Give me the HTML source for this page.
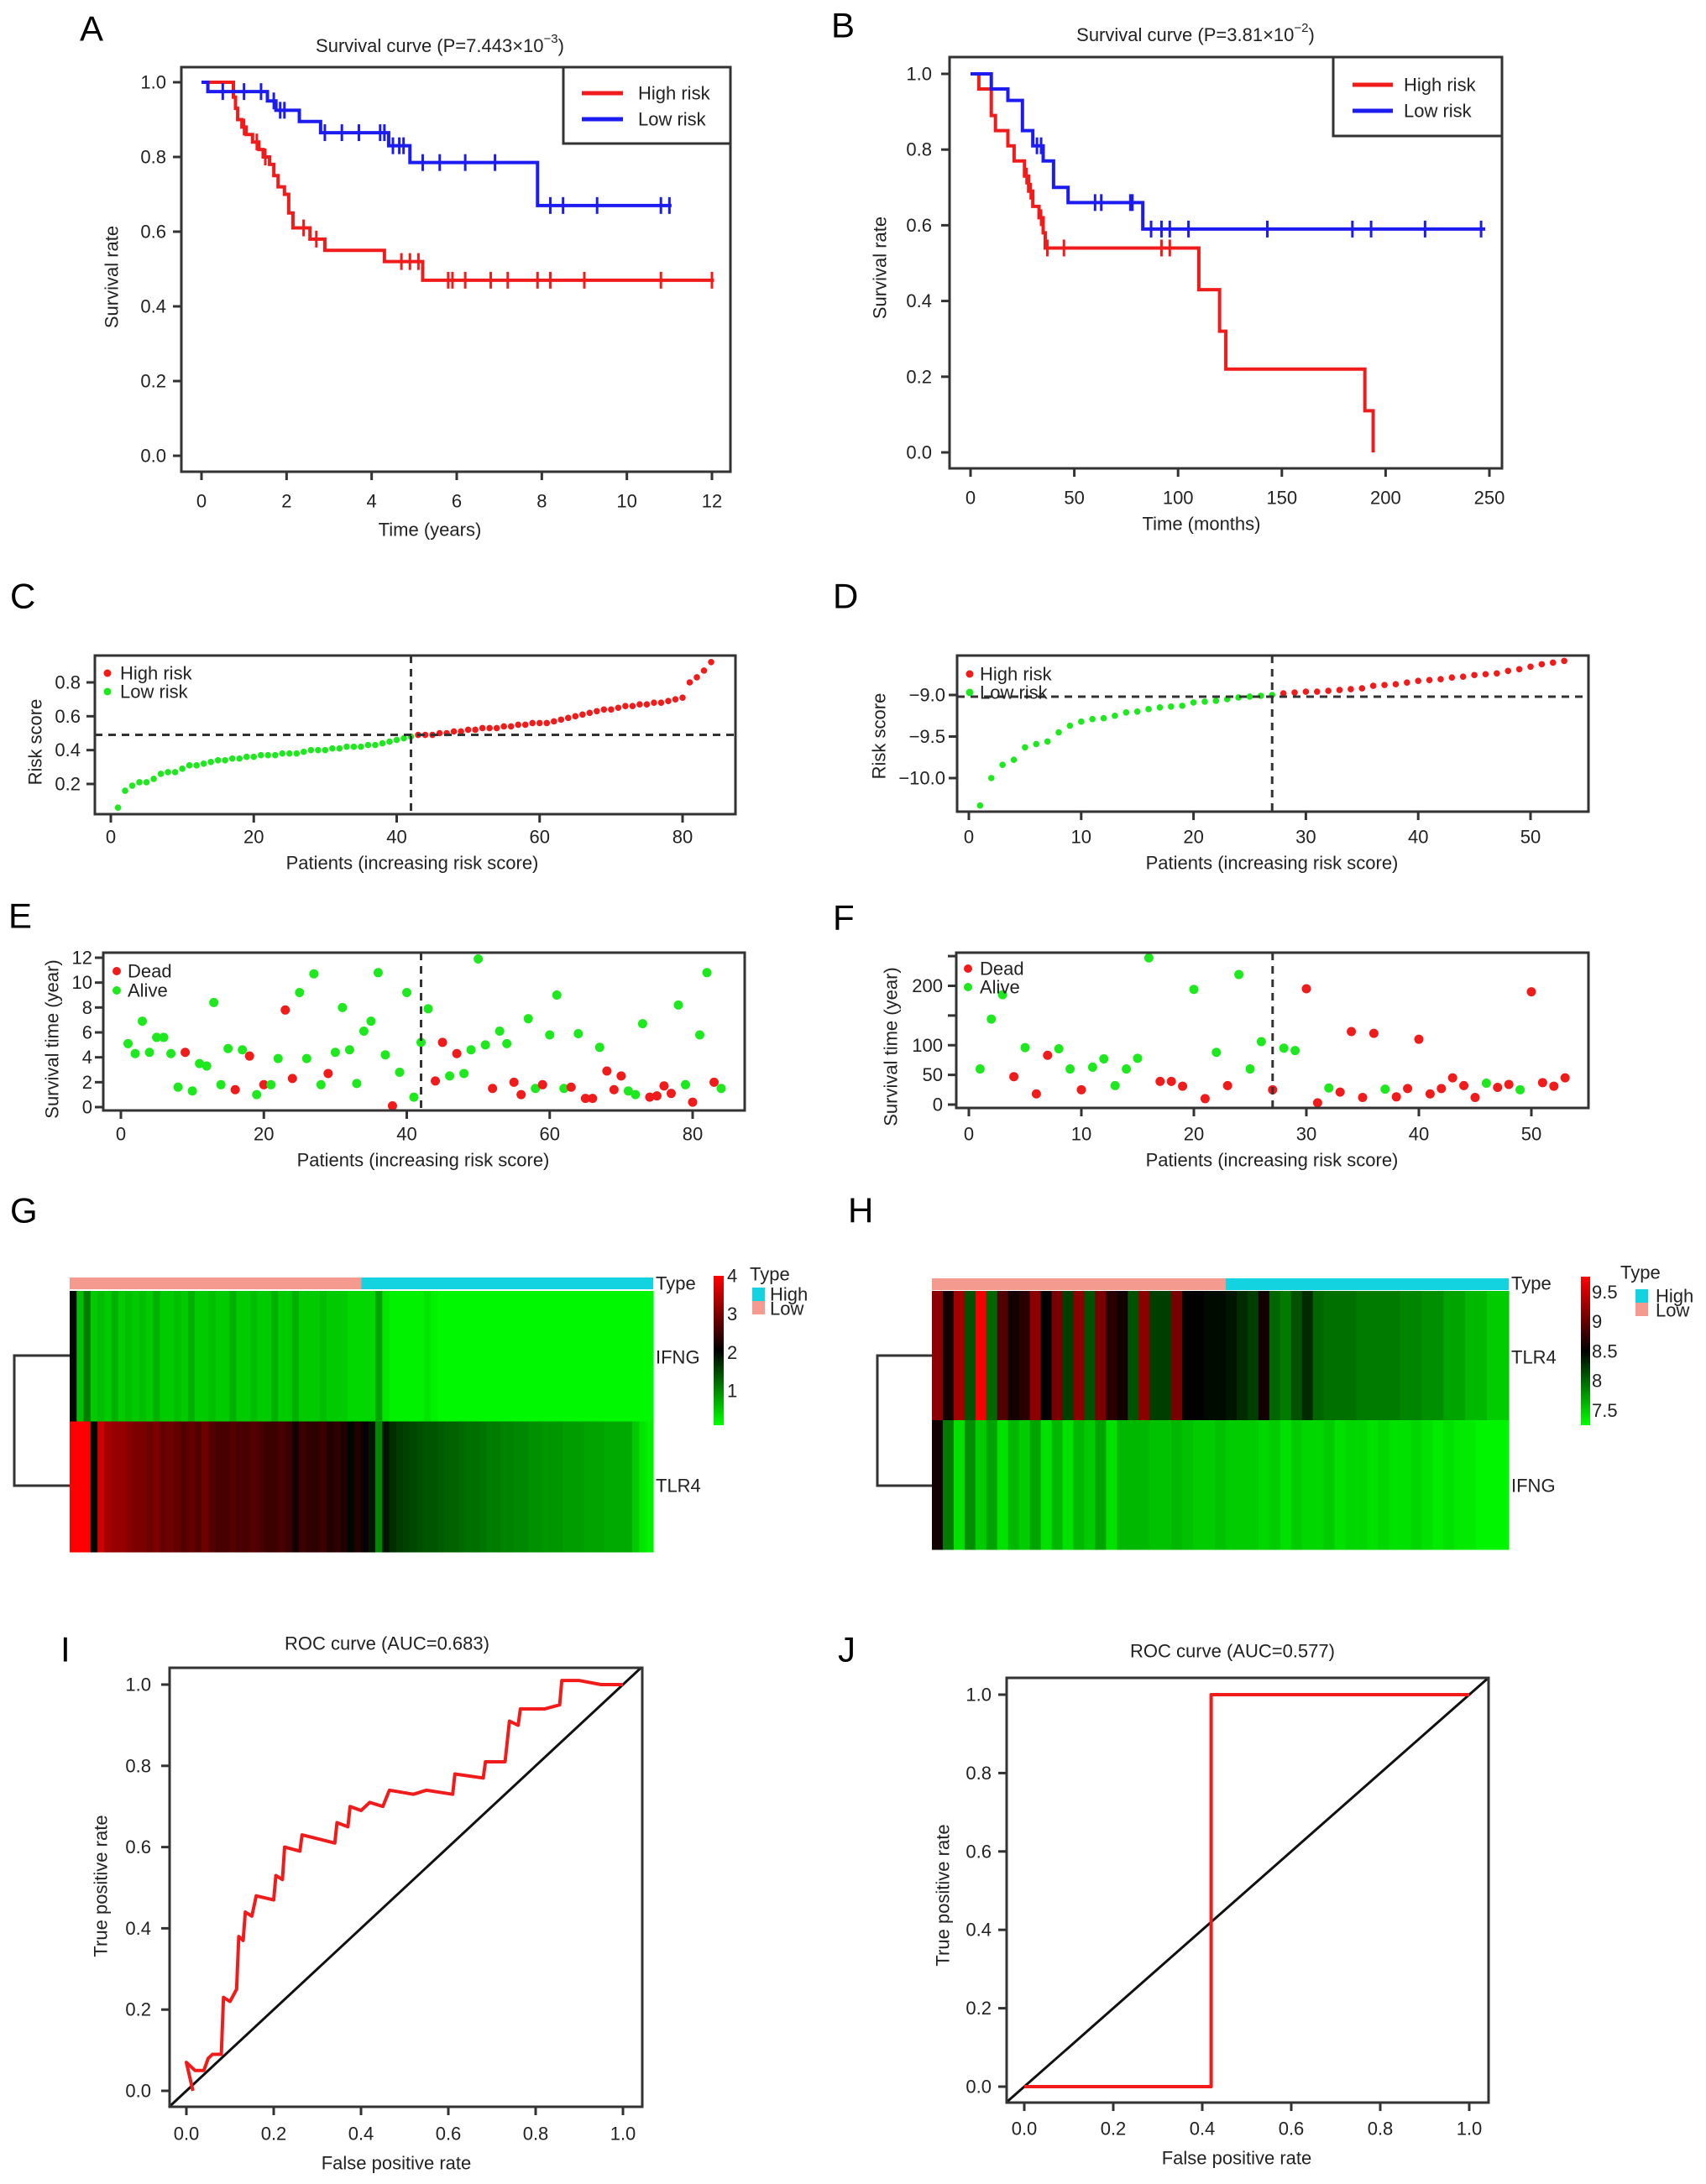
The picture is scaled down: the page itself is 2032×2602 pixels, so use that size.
<!DOCTYPE html>
<html><head><meta charset="utf-8"><style>
html,body{margin:0;padding:0;background:#fff;}
svg{display:block;font-family:"Liberation Sans",Arial,sans-serif;}
</style></head><body>
<svg id="fig" width="2032" height="2602" viewBox="0 0 2032 2602" xmlns="http://www.w3.org/2000/svg">
<rect x="0" y="0" width="2032" height="2602" fill="#fff"/>
<defs>
<linearGradient id="gradG" x1="0" y1="1" x2="0" y2="0"><stop offset="0" stop-color="#00ff00"/><stop offset="0.5" stop-color="#000"/><stop offset="1" stop-color="#ff0000"/></linearGradient>
<linearGradient id="gradH" x1="0" y1="1" x2="0" y2="0"><stop offset="0" stop-color="#00ff00"/><stop offset="0.5" stop-color="#000"/><stop offset="1" stop-color="#ff0000"/></linearGradient>
</defs>
</svg>
<script>
// ---------- DATA ----------
const kmA_highT=[0.75,0.8,0.85,0.95,1.05,1.2,1.35,1.45,1.6,1.7,1.8,1.95,2.05,2.15,2.55,2.9,4.3,5.2];
const kmA_highS=[0.96,0.93,0.90,0.88,0.86,0.84,0.82,0.80,0.78,0.75,0.72,0.70,0.65,0.61,0.58,0.55,0.52,0.47];
const kmA_highCens=[1.0,1.3,1.5,2.4,2.7,4.7,4.9,5.1,5.8,5.9,6.2,6.8,7.2,7.9,8.2,9.0,10.8,12.0];
const kmA_lowT=[0.15,1.55,1.75,2.3,2.8,4.4,4.9,7.9];
const kmA_lowS=[0.975,0.95,0.925,0.895,0.865,0.83,0.785,0.67];
const kmA_lowCens=[0.5,1.0,1.4,1.7,1.85,1.95,2.9,3.3,3.7,4.2,4.3,4.5,4.65,4.75,5.2,5.6,6.2,6.9,8.2,8.5,9.3,10.8,11.0];
const kmB_highT=[4,10,12,18,21,26,28,30,33,35,36,110,120,123,190,194];
const kmB_highS=[0.96,0.89,0.85,0.81,0.77,0.73,0.69,0.65,0.62,0.58,0.54,0.43,0.32,0.22,0.11,0.0];
const kmB_highCens=[27,29,34,37,45,92,96];
const kmB_lowT=[10,18,25,30,35,40,47,83];
const kmB_lowS=[0.96,0.93,0.85,0.81,0.77,0.70,0.66,0.59];
const kmB_lowCens=[32,34,60,63,77,78,87,92,96,105,143,184,193,219,246];

const riskC=[0.06,0.16,0.19,0.21,0.21,0.23,0.26,0.27,0.27,0.29,0.31,0.31,0.32,0.33,0.34,0.34,0.35,0.35,0.36,0.36,0.37,0.37,0.37,0.38,0.38,0.38,0.39,0.40,0.40,0.40,0.41,0.41,0.42,0.42,0.42,0.43,0.43,0.44,0.45,0.46,0.47,0.48,
0.49,0.49,0.49,0.50,0.50,0.51,0.51,0.52,0.52,0.53,0.53,0.53,0.54,0.54,0.55,0.55,0.56,0.56,0.56,0.57,0.58,0.59,0.60,0.61,0.62,0.63,0.64,0.64,0.65,0.66,0.66,0.67,0.67,0.68,0.68,0.69,0.70,0.71,0.80,0.83,0.87,0.92];
const cutC=42, thrC=0.49;
const riskD=[-10.33,-10.0,-9.84,-9.78,-9.63,-9.59,-9.56,-9.45,-9.37,-9.32,-9.29,-9.28,-9.25,-9.21,-9.20,-9.17,-9.15,-9.14,-9.13,-9.09,-9.08,-9.07,-9.05,-9.03,-9.02,-9.01,-9.0,
-8.98,-8.97,-8.96,-8.96,-8.95,-8.94,-8.93,-8.92,-8.89,-8.88,-8.87,-8.85,-8.83,-8.82,-8.81,-8.79,-8.78,-8.76,-8.75,-8.74,-8.71,-8.69,-8.66,-8.63,-8.61,-8.59];
const cutD=27, thrD=-9.02;
const timeE=[5.1,4.3,6.9,4.4,5.6,5.6,4.3,1.6,4.4,1.3,3.5,3.3,8.4,1.8,4.7,1.4,4.6,4.1,1.0,1.8,1.8,3.9,7.8,2.3,9.2,3.9,10.7,1.8,2.7,4.4,8.0,4.6,1.9,6.1,6.9,10.8,4.2,0.1,2.8,9.2,0.8,5.2,7.9,2.1,5.2,2.5,4.3,2.7,4.6,11.9,5.0,1.5,6.1,5.1,2.0,1.0,7.1,1.5,1.8,5.8,9.0,1.5,1.6,5.9,0.7,0.7,4.8,2.9,1.4,2.5,1.3,1.0,6.7,0.8,0.9,1.7,1.1,8.2,1.8,0.4,5.8,10.8,2.0,1.5];
const deadE=[0,0,0,0,0,0,0,0,1,0,0,0,0,0,0,1,0,1,0,1,0,0,1,1,0,0,0,0,1,0,0,0,0,0,0,0,0,1,0,0,0,0,0,1,1,0,1,0,0,0,0,1,0,0,1,1,0,0,1,0,0,0,1,0,1,1,0,1,1,1,0,0,0,1,1,1,1,0,0,1,0,0,1,0];
const timeF=[60,144,185,47,96,18,83,94,60,25,63,77,32,60,78,247,39,39,31,194,10,88,32,219,60,106,25,95,91,195,3,28,21,123,12,120,26,13,27,110,18,27,45,32,12,36,29,34,25,190,37,31,45];
const deadF=[0,0,0,1,0,1,1,0,0,1,0,0,0,0,0,0,1,1,1,0,1,0,1,0,0,0,1,0,0,1,1,0,1,1,1,1,0,1,1,1,1,1,1,1,1,0,1,1,0,1,1,1,1];

const genesG=["IFNG","TLR4"];
const ifngG=[2.0,0.6,1.1,0.5,0.6,0.5,0.7,0.5,0.6,0.5, 0.6,0.5,0.7,0.5,0.5,0.6,0.5,0.7,0.5,0.5, 0.6,0.5,0.5,0.7,0.5,0.5,0.6,0.5,0.5,0.7, 0.5,0.5,0.7,0.5,0.5,0.5,0.6,0.5,0.5,0.5, 0.4,0.4,0.4,0.4,0.8,0.3,0.2,0.2,0.2,0.2, 0.2,0.3,0.2,0.15,0.15,0.15,0.15,0.15,0.15,0.15, 0.15,0.15,0.15,0.15,0.15,0.15,0.15,0.15,0.15,0.15, 0.15,0.15,0.15,0.15,0.15,0.15,0.15,0.15,0.15,0.15, 0.15,0.15,0.15,0.15];
const tlr4G=[4,4,4,2.0,3.6,3.3,3.2,3.2,3.1,3.0, 3.0,2.9,3.0,2.8,2.9,2.8,2.7,2.8,2.7,2.9, 2.7,2.6,2.6,2.7,2.6,2.6,2.7,2.6,2.5,2.5, 2.6,2.5,2.2,2.5,2.4,2.4,2.5,2.3,2.4,2.3, 2.0,2.3,2.1,1.9,1.0,1.9,1.7,1.6,1.55,1.5, 1.45,1.4,1.4,1.35,1.3,1.3,1.25,1.2,1.2,1.15, 1.1,1.1,1.05,1.05,1.0,1.0,0.95,0.95,0.9,0.9, 0.9,0.85,0.85,0.85,0.8,0.8,0.8,0.75,0.75,0.75, 0.75,0.5,0.3,0.2];
const typeG=42;
const colorTicksG=[1,2,3,4];
const genesH=["TLR4","IFNG"];
const tlr4H=[9.2,8.6,9.3,8.1,9.7,8.0,8.9,8.6,8.7,9.2, 8.5,9.1,8.2,9.2,8.1,9.1,8.7,8.6,8.1,9.2, 8.2,8.2,9.1,8.5,8.5,8.45,8.45,8.4,8.3,8.2, 8.6,8.0,7.9,8.1,8.3,8.0,7.95,7.95,7.95,7.9, 7.9,7.9,7.9,7.85,7.85,7.8,7.8,7.7,7.7,7.6, 7.6,7.5,7.5];
const ifngH=[8.6,7.9,7.4,7.8,7.5,7.7,7.4,7.6,7.5,7.7, 7.4,7.6,7.4,7.6,7.5,7.7,7.4,7.6,7.6,7.6, 7.55,7.55,7.6,7.55,7.5,7.5,7.55,7.5,7.5,7.5, 7.45,7.5,7.4,7.5,7.45,7.45,7.5,7.4,7.45,7.45, 7.4,7.45,7.4,7.4,7.45,7.4,7.35,7.4,7.35,7.35, 7.3,7.3,7.3];
const typeH=27;
const colorTicksH=[7.5,8,8.5,9,9.5];

const rocI_fpr=[0.015,0.0,0.02,0.04,0.05,0.06,0.08,0.085,0.1,0.115,0.12,0.13,0.135,0.15,0.16,0.2,0.205,0.22,0.225,0.26,0.265,0.34,0.345,0.37,0.375,0.4,0.42,0.45,0.465,0.52,0.55,0.61,0.615,0.68,0.685,0.73,0.74,0.76,0.765,0.79,0.82,0.855,0.86,0.9,0.95,1.0];
const rocI_tpr=[0.0,0.07,0.05,0.05,0.08,0.09,0.09,0.23,0.22,0.25,0.38,0.37,0.44,0.43,0.48,0.47,0.53,0.52,0.60,0.59,0.63,0.61,0.66,0.65,0.70,0.69,0.71,0.70,0.74,0.73,0.74,0.73,0.78,0.77,0.81,0.81,0.91,0.90,0.94,0.94,0.94,0.95,1.01,1.01,1.0,1.0];
const rocJ_fpr=[0,0.42,0.42,1.0];
const rocJ_tpr=[0,0,1,1];

const tickKMA=[0,2,4,6,8,10,12], tickKMB=[0,50,100,150,200,250], tickSurv=[0,0.2,0.4,0.6,0.8,1.0];
const tickPatC=[0,20,40,60,80], tickRiskC=[0.2,0.4,0.6,0.8];
const tickPatD=[0,10,20,30,40,50], tickRiskD=[-10,-9.5,-9];
const tickTimeE=[0,2,4,6,8,10,12], tickTimeF=[0,50,100,150,200,250], labelTimeF=["0","50","100","","200",""];
const tickROC=[0,0.2,0.4,0.6,0.8,1.0];

// ---------- HELPERS ----------
const svg=document.getElementById('fig');
const NS='http://www.w3.org/2000/svg';
const RED='#f01c1c', BLUE='#1c1cf0', GREEN='#1ee81e', AX='#333';
function mk(tag,attrs,name){
  const e=document.createElementNS(NS,tag);
  for(const k in attrs) e.setAttribute(k,attrs[k]);
  
  
  svg.appendChild(e);return e;
}
function lin(d0,d1,r0,r1){return v=>r0+(v-d0)*(r1-r0)/(d1-d0);}
function txt(x,y,s,name,opt){
  opt=opt||{};
  const t=mk('text',{x:x,y:y,'font-size':opt.size||22,fill:opt.fill||'#222','text-anchor':opt.anchor||'middle','dominant-baseline':'central'},name);
  if(opt.rot) t.setAttribute('transform','rotate(-90 '+x+' '+y+')');
  t.textContent=s;return t;
}
function box(b,name){mk('rect',{x:b[0],y:b[1],width:b[2]-b[0],height:b[3]-b[1],fill:'none',stroke:AX,'stroke-width':3},name);}
function xAxis(ticks,labels,sx,yb,ly,name){
  ticks.forEach((v,i)=>{
    mk('line',{x1:sx(v),x2:sx(v),y1:yb,y2:yb+10,stroke:AX,'stroke-width':3},name+'-tick');
    txt(sx(v),ly,labels?labels[i]:String(v),name+'-label');
  });
}
function yAxis(ticks,labels,sy,xl,lx,name){
  ticks.forEach((v,i)=>{
    mk('line',{x1:xl-10,x2:xl,y1:sy(v),y2:sy(v),stroke:AX,'stroke-width':3},name+'-tick');
    txt(lx,sy(v),labels?labels[i]:String(v),name+'-label',{anchor:'end'});
  });
}
function letter(x,y,s){txt(x,y,s,'panel-label-'+s.toLowerCase(),{size:42,fill:'#000',anchor:'start'});}
function fmt1(v){return v.toFixed(1);}

// ---------- KM ----------
function survAt(T,S,t){let s=1;for(let i=0;i<T.length;i++){if(T[i]<=t)s=S[i];}return s;}
function km(T,S,cens,end,sx,sy,col,name){
  let d='M'+sx(0)+' '+sy(1);
  for(let i=0;i<T.length;i++){d+=' H'+sx(T[i])+' V'+sy(S[i]);}
  d+=' H'+sx(end);
  mk('path',{d:d,fill:'none',stroke:col,'stroke-width':4},name+'-curve');
  cens.forEach(t=>{const y=sy(survAt(T,S,t));
    mk('line',{x1:sx(t),x2:sx(t),y1:y-10,y2:y+10,stroke:col,'stroke-width':3},name+'-censor-mark');});
}
function kmLegend(b,lx0,lx1,tx,r1,r2){
  mk('rect',{x:b[0],y:b[1],width:b[2]-b[0],height:b[3]-b[1],fill:'#fff',stroke:AX,'stroke-width':3},'legend-box');
  mk('line',{x1:lx0,x2:lx1,y1:r1,y2:r1,stroke:RED,'stroke-width':5},'legend-high-risk-line');
  txt(tx,r1,'High risk','legend-high-risk',{anchor:'start'});
  mk('line',{x1:lx0,x2:lx1,y1:r2,y2:r2,stroke:BLUE,'stroke-width':5},'legend-low-risk-line');
  txt(tx,r2,'Low risk','legend-low-risk',{anchor:'start'});
}
function titleSup(x,y,base,sup,name){
  const t=mk('text',{x:x,y:y,'font-size':22,fill:'#222','text-anchor':'middle','dominant-baseline':'central'},name);
  const a=document.createElementNS(NS,'tspan');a.textContent=base;t.appendChild(a);
  const b=document.createElementNS(NS,'tspan');b.setAttribute('dy','-8');b.setAttribute('font-size','15');b.textContent=sup;t.appendChild(b);
  const c=document.createElementNS(NS,'tspan');c.setAttribute('dy','8');c.textContent=')';t.appendChild(c);
}

// Panel A
letter(95,34,'A');
{const sx=lin(0,12,240,848), sy=lin(0,1,543,98);
 titleSup(524,54,'Survival curve (P=7.443×10','−3','title-a');
 km(kmA_highT,kmA_highS,kmA_highCens,12.05,sx,sy,RED,'a-high-risk');
 km(kmA_lowT,kmA_lowS,kmA_lowCens,11.05,sx,sy,BLUE,'a-low-risk');
 box([216,80,870,562],'a-plot-frame');
 kmLegend([671,80,870,171],693,742,760,111,142);
 xAxis(tickKMA,null,sx,562,597,'a-x-axis');
 yAxis(tickSurv,tickSurv.map(fmt1),sy,216,198,'a-y-axis');
 txt(512,631,'Time (years)','a-x-title');
 txt(133,330,'Survival rate','a-y-title',{rot:1});
}
// Panel B
letter(990,30,'B');
{const sx=lin(0,250,1156,1774), sy=lin(0,1,539,88);
 titleSup(1424,41,'Survival curve (P=3.81×10','−2','title-b');
 km(kmB_highT,kmB_highS,kmB_highCens,194,sx,sy,RED,'b-high-risk');
 km(kmB_lowT,kmB_lowS,kmB_lowCens,248,sx,sy,BLUE,'b-low-risk');
 box([1131,68,1789,558],'b-plot-frame');
 kmLegend([1588,68,1789,162],1611,1659,1672,101,132);
 xAxis(tickKMB,null,sx,558,593,'b-x-axis');
 yAxis(tickSurv,tickSurv.map(fmt1),sy,1131,1110,'b-y-axis');
 txt(1431,624,'Time (months)','b-x-title');
 txt(1048,319,'Survival rate','b-y-title',{rot:1});
}
function dots(vals,isRed,sx,sy,r,name){
  vals.forEach((v,i)=>{mk('circle',{cx:sx(i+1),cy:sy(v),r:r,fill:isRed(i)?RED:GREEN},isRed(i)?name+'-red-point':name+'-green-point');});
}
function dotLegend(x,tx,r1,r2,a,b,r){
  mk('circle',{cx:x,cy:r1,r:r,fill:RED},'legend-red-dot');txt(tx,r1,a,'legend-'+a.toLowerCase().replace(' ','-'),{anchor:'start'});
  mk('circle',{cx:x,cy:r2,r:r,fill:GREEN},'legend-green-dot');txt(tx,r2,b,'legend-'+b.toLowerCase().replace(' ','-'),{anchor:'start'});
}
function dash(x1,y1,x2,y2,name){mk('line',{x1:x1,y1:y1,x2:x2,y2:y2,stroke:AX,'stroke-width':3,'stroke-dasharray':'9 7'},name);}
// Panel C
letter(12,710,'C');
{const sx=lin(0,80,132,813), sy=lin(0.2,0.8,934,813);
 dots(riskC,i=>i>=cutC,sx,sy,3.8,'c-risk');
 dash(113,sy(thrC),876,sy(thrC),'c-threshold-line');
 dash(sx(cutC),781,sx(cutC),970,'c-cutoff-line');
 box([113,781,876,970],'c-plot-frame');
 dotLegend(128,143,802,824,'High risk','Low risk',4.5);
 xAxis(tickPatC,null,sx,970,997,'c-x-axis');
 yAxis(tickRiskC,tickRiskC.map(fmt1),sy,113,96,'c-y-axis');
 txt(491,1028,'Patients (increasing risk score)','c-x-title');
 txt(42,884,'Risk score','c-y-title',{rot:1});
}
// Panel D
letter(992,710,'D');
{const sx=lin(0,50,1154,1823), sy=lin(-10,-9,927,828);
 dots(riskD,i=>i>=cutD,sx,sy,3.8,'d-risk');
 dash(1140,sy(thrD),1892,sy(thrD),'d-threshold-line');
 dash(sx(cutD),781,sx(cutD),967,'d-cutoff-line');
 box([1140,781,1892,967],'d-plot-frame');
 dotLegend(1155,1167,803,825,'High risk','Low risk',4.5);
 xAxis(tickPatD,null,sx,967,997,'d-x-axis');
 yAxis(tickRiskD,tickRiskD.map(v=>'−'+Math.abs(v).toFixed(1)),sy,1140,1126,'d-y-axis');
 txt(1515,1028,'Patients (increasing risk score)','d-x-title');
 txt(1047,877,'Risk score','d-y-title',{rot:1});
}
// Panel E
letter(10,1091,'E');
{const sx=lin(0,80,144,825), sy=lin(0,12,1319,1141);
 dots(timeE,i=>deadE[i]===1,sx,sy,5.5,'e-status');
 dash(sx(cutC),1135,sx(cutC),1323,'e-cutoff-line');
 box([123,1135,887,1323],'e-plot-frame');
 dotLegend(139,152,1157,1180,'Dead','Alive',5);
 xAxis(tickPatC,null,sx,1323,1351,'e-x-axis');
 yAxis(tickTimeE,null,sy,123,110,'e-y-axis');
 txt(504,1382,'Patients (increasing risk score)','e-x-title');
 txt(62,1238,'Survival time (year)','e-y-title',{rot:1});
}
// Panel F
letter(992,1093,'F');
{const sx=lin(0,50,1154,1824), sy=lin(0,200,1316,1174.5);
 dots(timeF,i=>deadF[i]===1,sx,sy,5.5,'f-status');
 dash(sx(cutD),1135,sx(cutD),1320,'f-cutoff-line');
 box([1139,1135,1892,1320],'f-plot-frame');
 dotLegend(1153,1167,1154,1176,'Dead','Alive',5);
 xAxis(tickPatD,null,sx,1320,1351,'f-x-axis');
 yAxis(tickTimeF,labelTimeF,sy,1139,1123,'f-y-axis');
 txt(1515,1382,'Patients (increasing risk score)','f-x-title');
 txt(1061,1247,'Survival time (year)','f-y-title',{rot:1});
}
// ---------- HEATMAPS ----------
function hcol(v,lo,hi){
  const m=(lo+hi)/2;let r=0,g=0;
  if(v>=m){r=Math.round(255*Math.min(1,(v-m)/(hi-m)));}else{g=Math.round(255*Math.min(1,(m-v)/(m-lo)));}
  return 'rgb('+r+','+g+',0)';
}
function heat(rows,x0,x1,yTop,rowH,lo,hi,name){
  const n=rows[0].length, w=(x1-x0)/n;
  rows.forEach((row,j)=>row.forEach((v,i)=>{
    mk('rect',{x:x0+i*w,y:yTop+j*rowH,width:w+0.6,height:rowH+0.5,fill:hcol(v,lo,hi)},name+'-cell');
  }));
}
function typeBar(x0,x1,nLow,n,y,name){
  const w=(x1-x0)/n;
  mk('rect',{x:x0,y:y,width:nLow*w,height:14,fill:'#f59a8f'},name+'-low-bar');
  mk('rect',{x:x0+nLow*w,y:y,width:(n-nLow)*w,height:14,fill:'#14d3e0'},name+'-high-bar');
}
function dendro(x,xr,y1,y2,name){
  mk('path',{d:'M'+xr+' '+y1+' H'+x+' V'+y2+' H'+xr,fill:'none',stroke:AX,'stroke-width':3},name);
}
function typeLegend(tx,ty,sx,tx2,y0){
  txt(tx,ty,'Type','type-legend-title',{anchor:'start'});
  mk('rect',{x:sx,y:y0,width:15,height:16,fill:'#14d3e0'},'type-legend-high-swatch');
  txt(tx2,y0+8,'High','type-legend-high',{anchor:'start'});
  mk('rect',{x:sx,y:y0+16,width:15,height:16,fill:'#f59a8f'},'type-legend-low-swatch');
  txt(tx2,y0+25,'Low','type-legend-low',{anchor:'start'});
}
// Panel G
letter(12,1442,'G');
{heat([ifngG,tlr4G],83,778,1538,155.5,0.1,4.0,'g-heatmap');
 typeBar(83,778,typeG,ifngG.length,1522,'g-type');
 dendro(17,83,1615,1770,'g-dendrogram');
 txt(781,1529,'Type','g-type-label',{anchor:'start'});
 txt(781,1617,genesG[0],'g-row-label-ifng',{anchor:'start'});
 txt(781,1770,genesG[1],'g-row-label-tlr4',{anchor:'start'});
 mk('rect',{x:850,y:1520,width:12,height:178,fill:'url(#gradG)'},'g-color-bar');
 const cy=lin(0.1,4.0,1698,1520);
 colorTicksG.forEach(v=>txt(866,cy(v),String(v),'g-color-bar-label',{anchor:'start'}));
 typeLegend(893,1518,896,917,1534);
}
// Panel H
letter(1010,1442,'H');
{heat([tlr4H,ifngH],1110,1797,1538,154,7.25,9.76,'h-heatmap');
 typeBar(1110,1797,typeH,tlr4H.length,1523,'h-type');
 dendro(1045,1110,1615,1770,'h-dendrogram');
 txt(1800,1529,'Type','h-type-label',{anchor:'start'});
 txt(1800,1617,genesH[0],'h-row-label-tlr4',{anchor:'start'});
 txt(1800,1770,genesH[1],'h-row-label-ifng',{anchor:'start'});
 mk('rect',{x:1883,y:1521,width:11,height:177,fill:'url(#gradH)'},'h-color-bar');
 const cy=lin(7.25,9.76,1698,1521);
 colorTicksH.forEach(v=>txt(1896,cy(v),String(v),'h-color-bar-label',{anchor:'start'}));
 typeLegend(1930,1516,1948,1972,1536);
}
// ---------- ROC ----------
function roc(F,T,sx,sy,b,name){
  let d='';F.forEach((f,i)=>{d+=(i?' L':'M')+sx(f)+' '+sy(T[i]);});
  mk('line',{x1:sx(-0.04),y1:sy(-0.04),x2:sx(1.04),y2:sy(1.04),stroke:'#111','stroke-width':3},name+'-diagonal');
  mk('path',{d:d,fill:'none',stroke:RED,'stroke-width':4,'stroke-linejoin':'round'},name+'-curve');
  box(b,name+'-plot-frame');
}
letter(72,1965,'I');
{const sx=lin(0,1,222,742), sy=lin(0,1,2491,2007);
 txt(461,1958,'ROC curve (AUC=0.683)','i-title');
 roc(rocI_fpr,rocI_tpr,sx,sy,[202,1987,765,2510],'i-roc');
 xAxis(tickROC,tickROC.map(fmt1),sx,2510,2542,'i-x-axis');
 yAxis(tickROC,tickROC.map(fmt1),sy,202,180,'i-y-axis');
 txt(472,2577,'False positive rate','i-x-title');
 txt(120,2247,'True positive rate','i-y-title',{rot:1});
}
letter(998,1965,'J');
{const sx=lin(0,1,1220,1750), sy=lin(0,1,2486,2019);
 txt(1468,1967,'ROC curve (AUC=0.577)','j-title');
 roc(rocJ_fpr,rocJ_tpr,sx,sy,[1199,1999,1773,2505],'j-roc');
 xAxis(tickROC,tickROC.map(fmt1),sx,2505,2536,'j-x-axis');
 yAxis(tickROC,tickROC.map(fmt1),sy,1199,1181,'j-y-axis');
 txt(1473,2571,'False positive rate','j-x-title');
 txt(1123,2258,'True positive rate','j-y-title',{rot:1});
}
</script>
</body></html>
